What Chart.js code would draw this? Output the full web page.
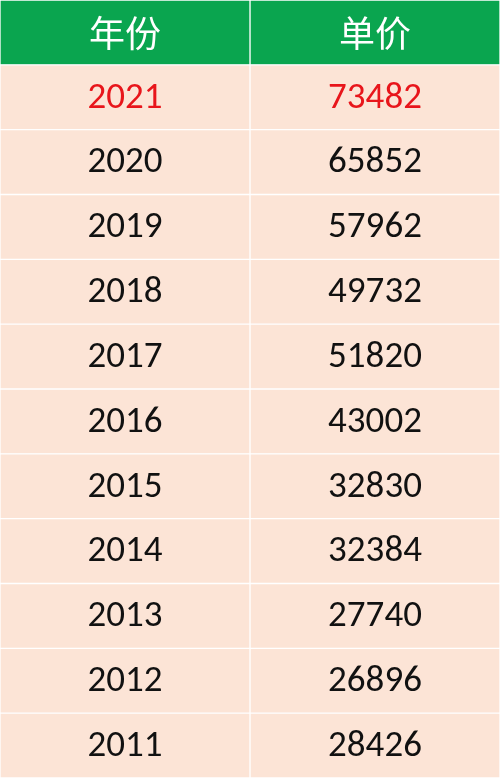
<!DOCTYPE html>
<html>
<head>
<meta charset="utf-8">
<script src="https://cdn.jsdelivr.net/npm/chart.js@4"></script>
<style>
  html, body { margin: 0; padding: 0; background: #fff; }
  #wrap { width: 500px; height: 778px; position: relative; }
</style>
</head>
<body>
<div id="wrap"><canvas id="priceTable"></canvas></div>
<script>
// --- 年份 / 单价 表格 ---
const headers = ['年份', '单价'];
const years = ['2021', '2020', '2019', '2018', '2017', '2016', '2015', '2014', '2013', '2012', '2011'];
const prices = ['73482', '65852', '57962', '49732', '51820', '43002', '32830', '32384', '27740', '26896', '28426'];

const rowLabels = ['header'].concat(years); // 한 줄 = 한 카테고리
const colWidth = rowLabels.map(() => 1);    // 칸 너비 (두 칸 같음)

const headerGreen = '#0aa54f';
const cellPeach = '#fce4d6';
const rowFill = rowLabels.map((r, i) => i === 0 ? headerGreen : cellPeach);

// 칸 안에 글자 쓰기
const cellText = {
  id: 'cellText',
  afterDatasetsDraw(chart) {
    const ctx = chart.ctx;
    ctx.save();
    ctx.textAlign = 'center';
    ctx.textBaseline = 'middle';
    chart.data.datasets.forEach((ds, di) => {
      const meta = chart.getDatasetMeta(di);
      meta.data.forEach((bar, i) => {
        const cx = (bar.x + bar.base) / 2;
        let txt, color;
        if (i === 0) {
          txt = headers[di];
          color = '#ffffff';
          ctx.font = '36px "Noto Sans CJK SC"';
        } else {
          txt = di === 0 ? years[i - 1] : prices[i - 1];
          color = i === 1 ? '#e8151b' : '#111111';
          ctx.font = '37px Calibri, "Carlito", "Open Sans", sans-serif';
        }
        ctx.fillStyle = color;
        ctx.fillText(txt, cx, bar.y + 1);
      });
    });
    ctx.restore();
  }
};

new Chart(document.getElementById('priceTable'), {
  type: 'bar',
  data: {
    labels: rowLabels,
    datasets: [0, 1].map(() => ({
      data: colWidth,
      backgroundColor: rowFill,
      borderColor: '#ffffff',
      borderWidth: 1,
      borderSkipped: false,
      barPercentage: 1,
      categoryPercentage: 1
    }))
  },
  options: {
    indexAxis: 'y',
    responsive: true,
    maintainAspectRatio: false,
    animation: false,
    layout: { padding: 0 },
    plugins: { legend: { display: false }, tooltip: { enabled: false } },
    scales: {
      x: { stacked: true, min: 0, max: 2, display: false },
      y: { stacked: true, display: false }
    }
  },
  plugins: [cellText]
});
</script>
</body>
</html>
